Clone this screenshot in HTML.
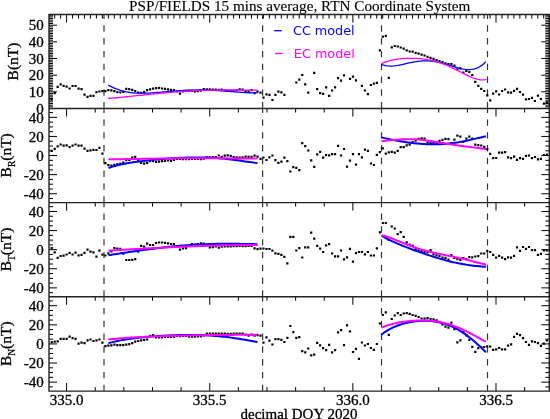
<!DOCTYPE html><html><head><meta charset="utf-8"><style>html,body{margin:0;padding:0;background:#fff;}svg{display:block;}</style></head><body>
<svg width="550" height="419" viewBox="0 0 550 419">
<rect width="550" height="419" fill="#fff"/>
<path d="M49.00 108.50L57.00 108.50M549.30 108.50L541.30 108.50M49.00 106.83L53.00 106.83M549.30 106.83L545.30 106.83M49.00 105.17L53.00 105.17M549.30 105.17L545.30 105.17M49.00 103.50L53.00 103.50M549.30 103.50L545.30 103.50M49.00 101.84L53.00 101.84M549.30 101.84L545.30 101.84M49.00 100.17L53.00 100.17M549.30 100.17L545.30 100.17M49.00 98.50L53.00 98.50M549.30 98.50L545.30 98.50M49.00 96.84L53.00 96.84M549.30 96.84L545.30 96.84M49.00 95.17L53.00 95.17M549.30 95.17L545.30 95.17M49.00 93.51L53.00 93.51M549.30 93.51L545.30 93.51M49.00 91.84L57.00 91.84M549.30 91.84L541.30 91.84M49.00 90.17L53.00 90.17M549.30 90.17L545.30 90.17M49.00 88.51L53.00 88.51M549.30 88.51L545.30 88.51M49.00 86.84L53.00 86.84M549.30 86.84L545.30 86.84M49.00 85.18L53.00 85.18M549.30 85.18L545.30 85.18M49.00 83.51L53.00 83.51M549.30 83.51L545.30 83.51M49.00 81.84L53.00 81.84M549.30 81.84L545.30 81.84M49.00 80.18L53.00 80.18M549.30 80.18L545.30 80.18M49.00 78.51L53.00 78.51M549.30 78.51L545.30 78.51M49.00 76.85L53.00 76.85M549.30 76.85L545.30 76.85M49.00 75.18L57.00 75.18M549.30 75.18L541.30 75.18M49.00 73.51L53.00 73.51M549.30 73.51L545.30 73.51M49.00 71.85L53.00 71.85M549.30 71.85L545.30 71.85M49.00 70.18L53.00 70.18M549.30 70.18L545.30 70.18M49.00 68.52L53.00 68.52M549.30 68.52L545.30 68.52M49.00 66.85L53.00 66.85M549.30 66.85L545.30 66.85M49.00 65.18L53.00 65.18M549.30 65.18L545.30 65.18M49.00 63.52L53.00 63.52M549.30 63.52L545.30 63.52M49.00 61.85L53.00 61.85M549.30 61.85L545.30 61.85M49.00 60.19L53.00 60.19M549.30 60.19L545.30 60.19M49.00 58.52L57.00 58.52M549.30 58.52L541.30 58.52M49.00 56.85L53.00 56.85M549.30 56.85L545.30 56.85M49.00 55.19L53.00 55.19M549.30 55.19L545.30 55.19M49.00 53.52L53.00 53.52M549.30 53.52L545.30 53.52M49.00 51.86L53.00 51.86M549.30 51.86L545.30 51.86M49.00 50.19L53.00 50.19M549.30 50.19L545.30 50.19M49.00 48.52L53.00 48.52M549.30 48.52L545.30 48.52M49.00 46.86L53.00 46.86M549.30 46.86L545.30 46.86M49.00 45.19L53.00 45.19M549.30 45.19L545.30 45.19M49.00 43.53L53.00 43.53M549.30 43.53L545.30 43.53M49.00 41.86L57.00 41.86M549.30 41.86L541.30 41.86M49.00 40.19L53.00 40.19M549.30 40.19L545.30 40.19M49.00 38.53L53.00 38.53M549.30 38.53L545.30 38.53M49.00 36.86L53.00 36.86M549.30 36.86L545.30 36.86M49.00 35.20L53.00 35.20M549.30 35.20L545.30 35.20M49.00 33.53L53.00 33.53M549.30 33.53L545.30 33.53M49.00 31.86L53.00 31.86M549.30 31.86L545.30 31.86M49.00 30.20L53.00 30.20M549.30 30.20L545.30 30.20M49.00 28.53L53.00 28.53M549.30 28.53L545.30 28.53M49.00 26.87L53.00 26.87M549.30 26.87L545.30 26.87M49.00 25.20L57.00 25.20M549.30 25.20L541.30 25.20M49.00 23.53L53.00 23.53M549.30 23.53L545.30 23.53M49.00 21.87L53.00 21.87M549.30 21.87L545.30 21.87M49.00 20.20L53.00 20.20M549.30 20.20L545.30 20.20M49.00 18.54L53.00 18.54M549.30 18.54L545.30 18.54M49.00 16.87L53.00 16.87M549.30 16.87L545.30 16.87M49.00 15.20L53.00 15.20M549.30 15.20L545.30 15.20M54.67 14.55L54.67 18.55M60.64 14.55L60.64 18.55M66.60 14.55L66.60 22.55M72.56 14.55L72.56 18.55M78.53 14.55L78.53 18.55M84.49 14.55L84.49 18.55M90.46 14.55L90.46 18.55M96.42 14.55L96.42 18.55M102.38 14.55L102.38 18.55M108.35 14.55L108.35 18.55M114.31 14.55L114.31 18.55M120.28 14.55L120.28 18.55M126.24 14.55L126.24 18.55M132.20 14.55L132.20 18.55M138.17 14.55L138.17 18.55M144.13 14.55L144.13 18.55M150.10 14.55L150.10 18.55M156.06 14.55L156.06 18.55M162.02 14.55L162.02 18.55M167.99 14.55L167.99 18.55M173.95 14.55L173.95 18.55M179.92 14.55L179.92 18.55M185.88 14.55L185.88 18.55M191.84 14.55L191.84 18.55M197.81 14.55L197.81 18.55M203.77 14.55L203.77 18.55M209.73 14.55L209.73 22.55M215.70 14.55L215.70 18.55M221.66 14.55L221.66 18.55M227.63 14.55L227.63 18.55M233.59 14.55L233.59 18.55M239.55 14.55L239.55 18.55M245.52 14.55L245.52 18.55M251.48 14.55L251.48 18.55M257.45 14.55L257.45 18.55M263.41 14.55L263.41 18.55M269.37 14.55L269.37 18.55M275.34 14.55L275.34 18.55M281.30 14.55L281.30 18.55M287.27 14.55L287.27 18.55M293.23 14.55L293.23 18.55M299.19 14.55L299.19 18.55M305.16 14.55L305.16 18.55M311.12 14.55L311.12 18.55M317.09 14.55L317.09 18.55M323.05 14.55L323.05 18.55M329.01 14.55L329.01 18.55M334.98 14.55L334.98 18.55M340.94 14.55L340.94 18.55M346.91 14.55L346.91 18.55M352.87 14.55L352.87 22.55M358.83 14.55L358.83 18.55M364.80 14.55L364.80 18.55M370.76 14.55L370.76 18.55M376.73 14.55L376.73 18.55M382.69 14.55L382.69 18.55M388.65 14.55L388.65 18.55M394.62 14.55L394.62 18.55M400.58 14.55L400.58 18.55M406.55 14.55L406.55 18.55M412.51 14.55L412.51 18.55M418.47 14.55L418.47 18.55M424.44 14.55L424.44 18.55M430.40 14.55L430.40 18.55M436.37 14.55L436.37 18.55M442.33 14.55L442.33 18.55M448.29 14.55L448.29 18.55M454.26 14.55L454.26 18.55M460.22 14.55L460.22 18.55M466.19 14.55L466.19 18.55M472.15 14.55L472.15 18.55M478.11 14.55L478.11 18.55M484.08 14.55L484.08 18.55M490.04 14.55L490.04 18.55M496.00 14.55L496.00 22.55M501.97 14.55L501.97 18.55M507.93 14.55L507.93 18.55M513.90 14.55L513.90 18.55M519.86 14.55L519.86 18.55M525.82 14.55L525.82 18.55M531.79 14.55L531.79 18.55M537.75 14.55L537.75 18.55M543.72 14.55L543.72 18.55M49.00 198.53L53.00 198.53M549.30 198.53L545.30 198.53M49.00 193.75L57.00 193.75M549.30 193.75L541.30 193.75M49.00 188.98L53.00 188.98M549.30 188.98L545.30 188.98M49.00 184.20L53.00 184.20M549.30 184.20L545.30 184.20M49.00 179.43L53.00 179.43M549.30 179.43L545.30 179.43M49.00 174.65L57.00 174.65M549.30 174.65L541.30 174.65M49.00 169.88L53.00 169.88M549.30 169.88L545.30 169.88M49.00 165.10L53.00 165.10M549.30 165.10L545.30 165.10M49.00 160.33L53.00 160.33M549.30 160.33L545.30 160.33M49.00 155.55L57.00 155.55M549.30 155.55L541.30 155.55M49.00 150.78L53.00 150.78M549.30 150.78L545.30 150.78M49.00 146.00L53.00 146.00M549.30 146.00L545.30 146.00M49.00 141.23L53.00 141.23M549.30 141.23L545.30 141.23M49.00 136.45L57.00 136.45M549.30 136.45L541.30 136.45M49.00 131.68L53.00 131.68M549.30 131.68L545.30 131.68M49.00 126.90L53.00 126.90M549.30 126.90L545.30 126.90M49.00 122.13L53.00 122.13M549.30 122.13L545.30 122.13M49.00 117.35L57.00 117.35M549.30 117.35L541.30 117.35M49.00 112.58L53.00 112.58M549.30 112.58L545.30 112.58M66.60 108.50L66.60 116.50M95.23 108.50L95.23 112.50M123.85 108.50L123.85 112.50M152.48 108.50L152.48 112.50M181.11 108.50L181.11 112.50M209.73 108.50L209.73 116.50M238.36 108.50L238.36 112.50M266.99 108.50L266.99 112.50M295.62 108.50L295.62 112.50M324.24 108.50L324.24 112.50M352.87 108.50L352.87 116.50M381.50 108.50L381.50 112.50M410.12 108.50L410.12 112.50M438.75 108.50L438.75 112.50M467.38 108.50L467.38 112.50M496.00 108.50L496.00 116.50M524.63 108.50L524.63 112.50M49.00 292.65L53.00 292.65M549.30 292.65L545.30 292.65M49.00 287.88L57.00 287.88M549.30 287.88L541.30 287.88M49.00 283.10L53.00 283.10M549.30 283.10L545.30 283.10M49.00 278.32L53.00 278.32M549.30 278.32L545.30 278.32M49.00 273.55L53.00 273.55M549.30 273.55L545.30 273.55M49.00 268.78L57.00 268.78M549.30 268.78L541.30 268.78M49.00 264.00L53.00 264.00M549.30 264.00L545.30 264.00M49.00 259.23L53.00 259.23M549.30 259.23L545.30 259.23M49.00 254.45L53.00 254.45M549.30 254.45L545.30 254.45M49.00 249.68L57.00 249.68M549.30 249.68L541.30 249.68M49.00 244.90L53.00 244.90M549.30 244.90L545.30 244.90M49.00 240.12L53.00 240.12M549.30 240.12L545.30 240.12M49.00 235.35L53.00 235.35M549.30 235.35L545.30 235.35M49.00 230.58L57.00 230.58M549.30 230.58L541.30 230.58M49.00 225.80L53.00 225.80M549.30 225.80L545.30 225.80M49.00 221.03L53.00 221.03M549.30 221.03L545.30 221.03M49.00 216.25L53.00 216.25M549.30 216.25L545.30 216.25M49.00 211.48L57.00 211.48M549.30 211.48L541.30 211.48M49.00 206.70L53.00 206.70M549.30 206.70L545.30 206.70M66.60 202.60L66.60 210.60M95.23 202.60L95.23 206.60M123.85 202.60L123.85 206.60M152.48 202.60L152.48 206.60M181.11 202.60L181.11 206.60M209.73 202.60L209.73 210.60M238.36 202.60L238.36 206.60M266.99 202.60L266.99 206.60M295.62 202.60L295.62 206.60M324.24 202.60L324.24 206.60M352.87 202.60L352.87 210.60M381.50 202.60L381.50 206.60M410.12 202.60L410.12 206.60M438.75 202.60L438.75 206.60M467.38 202.60L467.38 206.60M496.00 202.60L496.00 210.60M524.63 202.60L524.63 206.60M49.00 386.90L53.00 386.90M549.30 386.90L545.30 386.90M49.00 382.12L57.00 382.12M549.30 382.12L541.30 382.12M49.00 377.35L53.00 377.35M549.30 377.35L545.30 377.35M49.00 372.57L53.00 372.57M549.30 372.57L545.30 372.57M49.00 367.80L53.00 367.80M549.30 367.80L545.30 367.80M49.00 363.03L57.00 363.03M549.30 363.03L541.30 363.03M49.00 358.25L53.00 358.25M549.30 358.25L545.30 358.25M49.00 353.48L53.00 353.48M549.30 353.48L545.30 353.48M49.00 348.70L53.00 348.70M549.30 348.70L545.30 348.70M49.00 343.93L57.00 343.93M549.30 343.93L541.30 343.93M49.00 339.15L53.00 339.15M549.30 339.15L545.30 339.15M49.00 334.38L53.00 334.38M549.30 334.38L545.30 334.38M49.00 329.60L53.00 329.60M549.30 329.60L545.30 329.60M49.00 324.82L57.00 324.82M549.30 324.82L541.30 324.82M49.00 320.05L53.00 320.05M549.30 320.05L545.30 320.05M49.00 315.28L53.00 315.28M549.30 315.28L545.30 315.28M49.00 310.50L53.00 310.50M549.30 310.50L545.30 310.50M49.00 305.73L57.00 305.73M549.30 305.73L541.30 305.73M49.00 300.95L53.00 300.95M549.30 300.95L545.30 300.95M66.60 296.75L66.60 304.75M95.23 296.75L95.23 300.75M123.85 296.75L123.85 300.75M152.48 296.75L152.48 300.75M181.11 296.75L181.11 300.75M209.73 296.75L209.73 304.75M238.36 296.75L238.36 300.75M266.99 296.75L266.99 300.75M295.62 296.75L295.62 300.75M324.24 296.75L324.24 300.75M352.87 296.75L352.87 304.75M381.50 296.75L381.50 300.75M410.12 296.75L410.12 300.75M438.75 296.75L438.75 300.75M467.38 296.75L467.38 300.75M496.00 296.75L496.00 304.75M524.63 296.75L524.63 300.75M66.60 391.10L66.60 383.10M95.23 391.10L95.23 387.10M123.85 391.10L123.85 387.10M152.48 391.10L152.48 387.10M181.11 391.10L181.11 387.10M209.73 391.10L209.73 383.10M238.36 391.10L238.36 387.10M266.99 391.10L266.99 387.10M295.62 391.10L295.62 387.10M324.24 391.10L324.24 387.10M352.87 391.10L352.87 383.10M381.50 391.10L381.50 387.10M410.12 391.10L410.12 387.10M438.75 391.10L438.75 387.10M467.38 391.10L467.38 387.10M496.00 391.10L496.00 383.10M524.63 391.10L524.63 387.10" stroke="#000" stroke-width="1.0" fill="none"/>
<path d="M49.0 14.55H549.3M49.0 108.50H549.3M49.0 202.60H549.3M49.0 296.75H549.3M49.0 391.10H549.3M49.0 13.85V391.80M549.3 13.85V391.80" stroke="#222" stroke-width="1.4" fill="none"/>
<path d="M104.0 108.50V14.55M104.0 202.60V108.50M104.0 296.75V202.60M104.0 391.10V296.75M262.6 108.50V14.55M262.6 202.60V108.50M262.6 296.75V202.60M262.6 391.10V296.75M381.5 108.50V14.55M381.5 202.60V108.50M381.5 296.75V202.60M381.5 391.10V296.75M487.5 108.50V14.55M487.5 202.60V108.50M487.5 296.75V202.60M487.5 391.10V296.75" stroke="#333" stroke-width="1.2" stroke-dasharray="6.4 6.4" fill="none"/>
<text x="43.80" y="113.70" font-family="Liberation Serif, serif" stroke="#000" stroke-width="0.3" font-size="15" text-anchor="end">0</text>
<text x="43.80" y="97.04" font-family="Liberation Serif, serif" stroke="#000" stroke-width="0.3" font-size="15" text-anchor="end">10</text>
<text x="43.80" y="80.38" font-family="Liberation Serif, serif" stroke="#000" stroke-width="0.3" font-size="15" text-anchor="end">20</text>
<text x="43.80" y="63.72" font-family="Liberation Serif, serif" stroke="#000" stroke-width="0.3" font-size="15" text-anchor="end">30</text>
<text x="43.80" y="47.06" font-family="Liberation Serif, serif" stroke="#000" stroke-width="0.3" font-size="15" text-anchor="end">40</text>
<text x="43.80" y="30.40" font-family="Liberation Serif, serif" stroke="#000" stroke-width="0.3" font-size="15" text-anchor="end">50</text>
<text x="43.80" y="198.95" font-family="Liberation Serif, serif" stroke="#000" stroke-width="0.3" font-size="15" text-anchor="end">-40</text>
<text x="43.80" y="179.85" font-family="Liberation Serif, serif" stroke="#000" stroke-width="0.3" font-size="15" text-anchor="end">-20</text>
<text x="43.80" y="160.75" font-family="Liberation Serif, serif" stroke="#000" stroke-width="0.3" font-size="15" text-anchor="end">0</text>
<text x="43.80" y="141.65" font-family="Liberation Serif, serif" stroke="#000" stroke-width="0.3" font-size="15" text-anchor="end">20</text>
<text x="43.80" y="122.55" font-family="Liberation Serif, serif" stroke="#000" stroke-width="0.3" font-size="15" text-anchor="end">40</text>
<text x="43.80" y="293.07" font-family="Liberation Serif, serif" stroke="#000" stroke-width="0.3" font-size="15" text-anchor="end">-40</text>
<text x="43.80" y="273.98" font-family="Liberation Serif, serif" stroke="#000" stroke-width="0.3" font-size="15" text-anchor="end">-20</text>
<text x="43.80" y="254.88" font-family="Liberation Serif, serif" stroke="#000" stroke-width="0.3" font-size="15" text-anchor="end">0</text>
<text x="43.80" y="235.78" font-family="Liberation Serif, serif" stroke="#000" stroke-width="0.3" font-size="15" text-anchor="end">20</text>
<text x="43.80" y="216.68" font-family="Liberation Serif, serif" stroke="#000" stroke-width="0.3" font-size="15" text-anchor="end">40</text>
<text x="43.80" y="387.32" font-family="Liberation Serif, serif" stroke="#000" stroke-width="0.3" font-size="15" text-anchor="end">-40</text>
<text x="43.80" y="368.23" font-family="Liberation Serif, serif" stroke="#000" stroke-width="0.3" font-size="15" text-anchor="end">-20</text>
<text x="43.80" y="349.12" font-family="Liberation Serif, serif" stroke="#000" stroke-width="0.3" font-size="15" text-anchor="end">0</text>
<text x="43.80" y="330.02" font-family="Liberation Serif, serif" stroke="#000" stroke-width="0.3" font-size="15" text-anchor="end">20</text>
<text x="43.80" y="310.93" font-family="Liberation Serif, serif" stroke="#000" stroke-width="0.3" font-size="15" text-anchor="end">40</text>
<text x="66.60" y="404.5" font-family="Liberation Serif, serif" stroke="#000" stroke-width="0.3" font-size="15" text-anchor="middle">335.0</text>
<text x="209.73" y="404.5" font-family="Liberation Serif, serif" stroke="#000" stroke-width="0.3" font-size="15" text-anchor="middle">335.5</text>
<text x="352.87" y="404.5" font-family="Liberation Serif, serif" stroke="#000" stroke-width="0.3" font-size="15" text-anchor="middle">336.0</text>
<text x="496.00" y="404.5" font-family="Liberation Serif, serif" stroke="#000" stroke-width="0.3" font-size="15" text-anchor="middle">336.5</text>
<text x="299" y="418.6" font-family="Liberation Serif, serif" stroke="#000" stroke-width="0.3" font-size="15" text-anchor="middle">decimal DOY 2020</text>
<text x="299.7" y="10.8" font-family="Liberation Serif, serif" stroke="#000" stroke-width="0.12" font-size="15.2" text-anchor="middle">PSP/FIELDS 15 mins average, RTN Coordinate System</text>
<text transform="translate(18.4 61.52) rotate(-90)" font-family="Liberation Serif, serif" stroke="#000" stroke-width="0.3" font-size="15.5" text-anchor="middle">B(nT)</text>
<text transform="translate(10.9 155.35) rotate(-90)" font-family="Liberation Serif, serif" stroke="#000" stroke-width="0.3" font-size="15.5" text-anchor="middle">B<tspan font-size="9.5" dy="4.3">R</tspan><tspan dy="-4.3">(nT)</tspan></text>
<text transform="translate(10.9 249.48) rotate(-90)" font-family="Liberation Serif, serif" stroke="#000" stroke-width="0.3" font-size="15.5" text-anchor="middle">B<tspan font-size="9.5" dy="4.3">T</tspan><tspan dy="-4.3">(nT)</tspan></text>
<text transform="translate(10.9 343.73) rotate(-90)" font-family="Liberation Serif, serif" stroke="#000" stroke-width="0.3" font-size="15.5" text-anchor="middle">B<tspan font-size="9.5" dy="4.3">N</tspan><tspan dy="-4.3">(nT)</tspan></text>
<path d="M274.2 30.7H281.8" stroke="#00f" stroke-width="1.3"/>
<path d="M275 53.5H282.4" stroke="#f0f" stroke-width="1.3"/>
<text x="293.0" y="35.3" font-family="DejaVu Sans, sans-serif" font-size="12.75" fill="#00f">CC model</text>
<text x="293.8" y="58.2" font-family="DejaVu Sans, sans-serif" font-size="12.8" fill="#f0f">EC model</text>
<path d="M51.70 98.90h0M54.68 93.20h0M57.67 86.80h0M60.65 84.40h0M63.63 85.80h0M66.62 86.60h0M69.60 88.50h0M72.58 86.00h0M75.56 86.00h0M78.55 88.60h0M81.53 89.20h0M84.51 94.70h0M87.50 96.90h0M90.48 95.90h0M93.46 95.90h0M96.45 92.10h0M99.43 91.50h0M102.41 91.10h0M105.39 91.10h0M108.38 90.10h0M111.36 90.40h0M114.34 91.10h0M117.33 92.10h0M120.31 92.50h0M123.29 91.80h0M126.28 88.90h0M129.26 89.20h0M132.24 89.90h0M135.22 91.10h0M138.21 92.50h0M141.19 92.80h0M144.17 92.10h0M147.16 90.10h0M150.14 89.30h0M153.12 88.60h0M156.11 88.20h0M159.09 87.90h0M162.07 88.50h0M165.05 88.90h0M168.04 89.30h0M171.02 89.80h0M174.00 90.10h0M176.99 91.50h0M179.97 93.70h0M182.95 91.40h0M185.94 90.80h0M188.92 90.80h0M191.90 90.80h0M194.88 91.50h0M197.87 91.10h0M200.85 90.70h0M203.83 89.20h0M206.82 89.30h0M209.80 89.30h0M212.78 89.50h0M215.76 89.60h0M218.75 89.80h0M221.73 89.70h0M224.71 90.10h0M227.70 90.50h0M230.68 90.80h0M233.66 90.80h0M236.65 90.20h0M239.63 89.30h0M242.61 89.50h0M245.60 91.10h0M248.58 91.10h0M251.56 90.20h0M254.54 93.20h0M257.53 91.60h0M260.51 92.70h0M263.49 97.70h0M266.48 94.40h0M269.46 94.90h0M272.44 100.00h0M275.43 94.80h0M278.41 91.70h0M281.39 92.30h0M284.37 94.90h0M296.31 82.50h0M299.29 79.60h0M302.27 75.00h0M305.25 84.40h0M308.24 92.70h0M314.20 72.80h0M317.19 89.10h0M320.17 93.20h0M323.15 93.90h0M326.14 87.30h0M329.12 95.80h0M332.10 90.50h0M335.08 87.30h0M338.07 78.20h0M341.05 80.70h0M344.03 75.30h0M350.00 78.90h0M352.98 76.70h0M355.97 80.40h0M361.93 85.90h0M364.92 90.50h0M367.90 94.20h0M370.88 85.00h0M373.86 83.70h0M376.85 82.80h0M379.83 50.30h0M382.81 36.60h0M385.80 35.90h0M388.78 77.90h0M391.76 47.40h0M394.75 46.00h0M397.73 46.50h0M400.71 47.50h0M403.69 48.60h0M406.68 50.30h0M409.66 51.50h0M412.64 51.60h0M415.63 52.80h0M418.61 53.60h0M421.59 54.70h0M424.57 55.50h0M427.56 56.90h0M430.54 57.80h0M433.52 58.90h0M436.51 60.10h0M439.49 61.10h0M442.47 62.10h0M445.46 63.30h0M448.44 64.20h0M451.42 64.20h0M454.41 65.70h0M457.39 69.40h0M460.37 68.40h0M463.35 72.50h0M466.34 70.90h0M469.32 72.00h0M472.30 75.00h0M475.29 81.80h0M478.27 85.90h0M481.25 88.80h0M484.24 91.00h0M487.22 95.30h0M490.20 100.40h0M493.18 93.70h0M496.17 91.30h0M499.15 94.50h0M502.13 91.00h0M505.12 89.50h0M508.10 92.30h0M511.08 92.70h0M514.07 90.80h0M517.05 88.80h0M520.03 92.00h0M523.01 94.60h0M526.00 99.30h0M528.98 99.00h0M531.96 97.80h0M534.95 101.00h0M537.93 95.60h0M540.91 99.00h0M543.89 103.60h0M546.88 102.50h0" stroke="#000" stroke-width="2.2" stroke-linecap="square" fill="none"/>
<path d="M51.70 150.80h0M54.68 148.90h0M57.67 146.30h0M60.65 144.50h0M63.63 145.60h0M66.62 145.30h0M69.60 147.20h0M72.58 145.70h0M75.56 144.50h0M78.55 145.60h0M81.53 145.70h0M84.51 148.60h0M87.50 150.80h0M90.48 150.40h0M93.46 149.90h0M96.45 150.00h0M99.43 147.90h0M102.41 153.70h0M105.39 163.20h0M108.38 165.10h0M111.36 165.60h0M114.34 164.90h0M117.33 164.20h0M120.31 163.50h0M123.29 162.70h0M126.28 160.20h0M129.26 159.90h0M132.24 157.50h0M135.22 156.90h0M138.21 160.50h0M141.19 162.90h0M144.17 163.60h0M147.16 162.90h0M150.14 161.10h0M153.12 161.10h0M156.11 161.80h0M159.09 161.70h0M162.07 161.10h0M165.05 160.90h0M168.04 160.50h0M171.02 160.90h0M174.00 159.80h0M176.99 158.90h0M179.97 158.90h0M182.95 159.10h0M185.94 159.10h0M188.92 159.20h0M191.90 158.90h0M194.88 159.00h0M197.87 158.80h0M200.85 159.10h0M203.83 158.70h0M206.82 157.30h0M209.80 157.30h0M212.78 157.10h0M215.76 157.10h0M218.75 155.50h0M221.73 156.90h0M224.71 155.60h0M227.70 155.30h0M230.68 155.80h0M233.66 157.00h0M236.65 157.30h0M239.63 157.50h0M242.61 157.30h0M245.60 156.70h0M248.58 156.90h0M251.56 156.90h0M254.54 155.60h0M257.53 156.70h0M260.51 158.80h0M263.49 157.50h0M266.48 160.00h0M269.46 157.40h0M272.44 155.50h0M275.43 160.20h0M278.41 162.80h0M281.39 161.70h0M284.37 157.70h0M287.36 161.10h0M290.34 171.50h0M293.32 167.20h0M296.31 167.90h0M299.29 170.10h0M302.27 143.20h0M305.25 146.10h0M308.24 150.50h0M311.22 160.30h0M314.20 166.90h0M317.19 154.40h0M320.17 151.90h0M323.15 157.70h0M326.14 155.10h0M329.12 155.30h0M332.10 154.10h0M335.08 154.10h0M338.07 145.80h0M341.05 155.50h0M344.03 149.00h0M347.02 166.60h0M350.00 160.60h0M352.98 154.10h0M355.97 164.60h0M358.95 154.10h0M361.93 157.30h0M364.92 149.70h0M367.90 150.90h0M370.88 163.50h0M373.86 165.00h0M376.85 154.80h0M379.83 152.20h0M382.81 148.30h0M385.80 153.70h0M388.78 152.30h0M391.76 151.90h0M394.75 152.60h0M397.73 150.90h0M400.71 147.10h0M403.69 147.10h0M406.68 145.40h0M409.66 144.60h0M412.64 142.20h0M415.63 140.70h0M418.61 138.80h0M421.59 138.30h0M424.57 138.70h0M427.56 142.50h0M430.54 143.00h0M433.52 143.00h0M436.51 143.30h0M439.49 140.80h0M442.47 139.90h0M445.46 138.90h0M448.44 139.20h0M451.42 143.00h0M454.41 139.60h0M457.39 135.70h0M460.37 136.70h0M463.35 141.80h0M466.34 138.60h0M469.32 136.70h0M472.30 138.60h0M475.29 144.70h0M478.27 145.20h0M481.25 145.50h0M484.24 146.90h0M487.22 149.10h0M490.20 153.80h0M493.18 158.20h0M496.17 158.00h0M499.15 152.70h0M502.13 152.70h0M505.12 152.20h0M508.10 157.40h0M511.08 158.10h0M514.07 156.60h0M517.05 159.90h0M520.03 158.10h0M523.01 158.80h0M526.00 155.90h0M528.98 155.50h0M531.96 158.10h0M534.95 157.00h0M537.93 159.30h0M540.91 158.80h0M543.89 155.00h0M546.88 154.60h0" stroke="#000" stroke-width="2.2" stroke-linecap="square" fill="none"/>
<path d="M51.70 248.00h0M54.68 252.40h0M57.67 257.90h0M60.65 256.00h0M63.63 255.70h0M66.62 254.50h0M69.60 252.80h0M72.58 254.50h0M75.56 252.70h0M78.55 255.30h0M81.53 254.80h0M84.51 252.80h0M87.50 249.70h0M90.48 251.60h0M93.46 252.40h0M96.45 256.60h0M99.43 250.70h0M102.41 254.70h0M105.39 255.50h0M108.38 253.40h0M111.36 251.50h0M114.34 248.00h0M117.33 248.60h0M120.31 248.90h0M123.29 253.60h0M126.28 260.00h0M129.26 260.00h0M132.24 259.80h0M135.22 259.20h0M138.21 251.60h0M141.19 245.90h0M144.17 246.60h0M147.16 243.70h0M150.14 245.00h0M153.12 245.00h0M156.11 243.00h0M159.09 242.50h0M162.07 242.50h0M165.05 242.80h0M168.04 243.30h0M171.02 244.00h0M174.00 244.00h0M176.99 246.90h0M179.97 249.70h0M182.95 248.40h0M185.94 248.20h0M188.92 246.00h0M191.90 244.20h0M194.88 244.50h0M197.87 244.00h0M200.85 243.40h0M203.83 243.50h0M206.82 245.00h0M209.80 247.30h0M212.78 247.20h0M215.76 246.50h0M218.75 247.60h0M221.73 246.70h0M224.71 246.40h0M227.70 246.40h0M230.68 246.40h0M233.66 246.20h0M236.65 246.10h0M239.63 245.90h0M242.61 246.20h0M245.60 246.10h0M248.58 245.90h0M251.56 245.90h0M254.54 248.30h0M257.53 249.10h0M260.51 248.70h0M263.49 248.50h0M266.48 249.00h0M269.46 249.00h0M272.44 250.70h0M275.43 253.30h0M278.41 253.90h0M281.39 254.80h0M284.37 256.90h0M287.36 263.30h0M290.34 236.90h0M293.32 236.90h0M296.31 250.50h0M299.29 248.20h0M302.27 257.50h0M305.25 247.40h0M308.24 247.40h0M311.22 232.60h0M314.20 238.70h0M317.19 245.90h0M320.17 248.60h0M323.15 252.00h0M326.14 245.30h0M329.12 244.10h0M332.10 253.50h0M335.08 256.30h0M338.07 256.30h0M341.05 250.50h0M344.03 259.30h0M347.02 257.30h0M350.00 248.90h0M352.98 261.60h0M355.97 253.20h0M358.95 252.00h0M361.93 252.00h0M364.92 254.40h0M367.90 252.00h0M370.88 255.50h0M373.86 255.50h0M376.85 248.30h0M379.83 232.30h0M382.81 223.00h0M385.80 223.00h0M388.78 239.90h0M391.76 226.50h0M394.75 228.50h0M397.73 234.10h0M400.71 232.20h0M403.69 236.90h0M406.68 242.30h0M409.66 244.50h0M412.64 245.60h0M415.63 249.10h0M418.61 250.20h0M421.59 251.00h0M424.57 252.10h0M427.56 252.20h0M430.54 250.10h0M433.52 254.30h0M436.51 255.30h0M439.49 256.00h0M442.47 257.60h0M445.46 257.80h0M448.44 259.70h0M451.42 255.00h0M454.41 258.00h0M457.39 259.20h0M460.37 259.80h0M463.35 258.20h0M466.34 259.10h0M469.32 257.10h0M472.30 257.30h0M475.29 256.50h0M478.27 256.20h0M481.25 253.50h0M484.24 253.50h0M487.22 250.80h0M490.20 252.00h0M493.18 254.90h0M496.17 257.70h0M499.15 255.90h0M502.13 257.70h0M505.12 259.10h0M508.10 257.30h0M511.08 257.70h0M514.07 255.90h0M517.05 247.40h0M520.03 250.80h0M523.01 247.00h0M526.00 248.80h0M528.98 247.00h0M531.96 250.20h0M534.95 250.20h0M537.93 254.90h0M540.91 253.80h0M543.89 250.50h0M546.88 250.50h0" stroke="#000" stroke-width="2.2" stroke-linecap="square" fill="none"/>
<path d="M51.70 342.20h0M54.68 341.70h0M57.67 341.30h0M60.65 338.80h0M63.63 338.80h0M66.62 338.80h0M69.60 336.60h0M72.58 338.10h0M75.56 338.80h0M78.55 343.60h0M81.53 342.70h0M84.51 343.20h0M87.50 340.30h0M90.48 339.50h0M93.46 341.00h0M96.45 340.30h0M99.43 339.50h0M102.41 342.70h0M105.39 346.10h0M108.38 345.70h0M111.36 345.40h0M114.34 344.60h0M117.33 345.10h0M120.31 345.10h0M123.29 345.10h0M126.28 344.60h0M129.26 344.20h0M132.24 343.20h0M135.22 341.70h0M138.21 341.00h0M141.19 340.30h0M144.17 339.80h0M147.16 339.50h0M150.14 335.90h0M153.12 335.20h0M156.11 337.40h0M159.09 337.40h0M162.07 337.40h0M165.05 336.90h0M168.04 336.90h0M171.02 336.90h0M174.00 336.90h0M176.99 336.00h0M179.97 336.20h0M182.95 336.00h0M185.94 336.00h0M188.92 336.60h0M191.90 336.60h0M194.88 336.60h0M197.87 336.30h0M200.85 336.40h0M203.83 335.50h0M206.82 333.50h0M209.80 333.50h0M212.78 333.60h0M215.76 333.60h0M218.75 333.60h0M221.73 333.60h0M224.71 333.60h0M227.70 333.80h0M230.68 333.80h0M233.66 333.60h0M236.65 333.60h0M239.63 333.60h0M242.61 333.60h0M245.60 334.50h0M248.58 335.70h0M251.56 334.70h0M254.54 335.70h0M257.53 335.20h0M260.51 335.60h0M263.49 342.70h0M266.48 337.30h0M269.46 340.60h0M272.44 344.50h0M275.43 339.20h0M278.41 339.20h0M281.39 339.80h0M284.37 342.00h0M287.36 337.80h0M290.34 326.00h0M293.32 332.10h0M296.31 337.90h0M299.29 337.20h0M302.27 351.20h0M305.25 352.30h0M308.24 348.50h0M311.22 355.30h0M314.20 354.70h0M317.19 342.80h0M320.17 345.40h0M323.15 348.20h0M326.14 350.20h0M329.12 344.80h0M332.10 352.30h0M335.08 350.20h0M338.07 332.40h0M341.05 330.20h0M344.03 345.10h0M347.02 325.30h0M350.00 331.40h0M352.98 352.00h0M355.97 348.80h0M358.95 358.80h0M361.93 342.50h0M364.92 345.50h0M367.90 344.00h0M370.88 348.00h0M373.86 349.80h0M376.85 344.00h0M379.83 323.50h0M382.81 315.00h0M385.80 312.40h0M388.78 334.80h0M391.76 319.00h0M394.75 315.50h0M397.73 313.20h0M400.71 315.00h0M403.69 313.50h0M406.68 313.20h0M409.66 313.90h0M412.64 315.00h0M415.63 315.90h0M418.61 317.00h0M421.59 318.50h0M424.57 318.50h0M427.56 318.20h0M430.54 319.00h0M433.52 319.40h0M436.51 320.40h0M439.49 321.80h0M442.47 324.30h0M445.46 326.60h0M448.44 327.60h0M451.42 322.60h0M454.41 329.10h0M457.39 342.40h0M460.37 340.40h0M463.35 332.40h0M466.34 335.30h0M469.32 339.80h0M472.30 346.90h0M475.29 351.90h0M478.27 348.20h0M481.25 347.00h0M484.24 347.00h0M487.22 346.30h0M490.20 346.50h0M493.18 349.80h0M496.17 349.30h0M499.15 348.00h0M502.13 349.40h0M505.12 349.40h0M508.10 345.60h0M511.08 344.40h0M514.07 336.90h0M517.05 333.90h0M520.03 335.10h0M523.01 338.10h0M526.00 342.00h0M528.98 344.90h0M531.96 341.30h0M534.95 342.00h0M537.93 343.20h0M540.91 345.90h0M543.89 343.70h0M546.88 340.50h0" stroke="#000" stroke-width="2.2" stroke-linecap="square" fill="none"/>
<path d="M108.20 84.95L110.25 86.12L112.29 87.18L114.34 88.13L116.38 88.97L118.43 89.73L120.47 90.39L122.52 90.96L124.56 91.46L126.61 91.88L128.65 92.24L130.70 92.53L132.74 92.76L134.79 92.94L136.83 93.07L138.88 93.15L140.92 93.20L142.97 93.20L145.01 93.18L147.06 93.12L149.10 93.04L151.15 92.93L153.19 92.81L155.24 92.67L157.28 92.52L159.33 92.36L161.38 92.19L163.42 92.01L165.47 91.84L167.51 91.66L169.56 91.48L171.60 91.31L173.65 91.14L175.69 90.98L177.74 90.83L179.78 90.69L181.83 90.55L183.87 90.43L185.92 90.33L187.96 90.24L190.01 90.16L192.05 90.09L194.10 90.05L196.14 90.02L198.19 90.00L200.23 90.00L202.28 90.02L204.32 90.05L206.37 90.09L208.42 90.16L210.46 90.23L212.51 90.32L214.55 90.42L216.60 90.54L218.64 90.66L220.69 90.80L222.73 90.94L224.78 91.09L226.82 91.24L228.87 91.40L230.91 91.56L232.96 91.72L235.00 91.88L237.05 92.04L239.09 92.18L241.14 92.33L243.18 92.45L245.23 92.57L247.27 92.67L249.32 92.75L251.36 92.82L253.41 92.85L255.45 92.86L257.50 92.84" stroke="#00f" stroke-width="1.3" fill="none"/>
<path d="M381.40 64.38L383.45 65.13L385.50 65.65L387.55 65.97L389.60 66.12L391.65 66.11L393.69 65.97L395.74 65.73L397.79 65.41L399.84 65.02L401.89 64.59L403.94 64.13L405.99 63.66L408.04 63.19L410.09 62.74L412.14 62.31L414.18 61.92L416.23 61.58L418.28 61.29L420.33 61.07L422.38 60.91L424.43 60.82L426.48 60.81L428.53 60.87L430.58 61.01L432.63 61.22L434.67 61.51L436.72 61.86L438.77 62.28L440.82 62.76L442.87 63.29L444.92 63.86L446.97 64.47L449.02 65.10L451.07 65.75L453.12 66.39L455.16 67.02L457.21 67.62L459.26 68.17L461.31 68.66L463.36 69.06L465.41 69.36L467.46 69.54L469.51 69.58L471.56 69.44L473.61 69.12L475.65 68.57L477.70 67.79L479.75 66.73L481.80 65.37L483.85 63.69L485.90 61.64" stroke="#00f" stroke-width="1.3" fill="none"/>
<path d="M108.20 98.42L110.25 98.26L112.29 98.09L114.34 97.92L116.38 97.74L118.43 97.55L120.47 97.35L122.52 97.15L124.56 96.95L126.61 96.75L128.65 96.54L130.70 96.33L132.74 96.11L134.79 95.90L136.83 95.68L138.88 95.47L140.92 95.25L142.97 95.03L145.01 94.82L147.06 94.61L149.10 94.40L151.15 94.19L153.19 93.98L155.24 93.78L157.28 93.58L159.33 93.38L161.38 93.19L163.42 93.00L165.47 92.81L167.51 92.63L169.56 92.46L171.60 92.29L173.65 92.13L175.69 91.97L177.74 91.81L179.78 91.67L181.83 91.53L183.87 91.39L185.92 91.26L187.96 91.14L190.01 91.02L192.05 90.91L194.10 90.81L196.14 90.71L198.19 90.62L200.23 90.54L202.28 90.46L204.32 90.39L206.37 90.32L208.42 90.27L210.46 90.21L212.51 90.17L214.55 90.13L216.60 90.09L218.64 90.06L220.69 90.04L222.73 90.02L224.78 90.01L226.82 90.00L228.87 89.99L230.91 89.99L232.96 90.00L235.00 90.01L237.05 90.02L239.09 90.03L241.14 90.05L243.18 90.07L245.23 90.09L247.27 90.11L249.32 90.14L251.36 90.16L253.41 90.19L255.45 90.21L257.50 90.24" stroke="#f0f" stroke-width="1.3" fill="none"/>
<path d="M381.30 63.75L383.36 62.82L385.42 62.01L387.48 61.32L389.54 60.72L391.60 60.22L393.66 59.79L395.73 59.43L397.79 59.13L399.85 58.88L401.91 58.68L403.97 58.53L406.03 58.42L408.09 58.34L410.15 58.31L412.21 58.31L414.27 58.35L416.33 58.43L418.39 58.55L420.45 58.71L422.52 58.91L424.58 59.16L426.64 59.46L428.70 59.81L430.76 60.21L432.82 60.67L434.88 61.18L436.94 61.75L439.00 62.37L441.06 63.06L443.12 63.80L445.18 64.60L447.25 65.45L449.31 66.35L451.37 67.30L453.43 68.29L455.49 69.32L457.55 70.37L459.61 71.44L461.67 72.52L463.73 73.59L465.79 74.64L467.85 75.65L469.91 76.61L471.97 77.50L474.04 78.29L476.10 78.96L478.16 79.48L480.22 79.82L482.28 79.95L484.34 79.85L486.40 79.46" stroke="#f0f" stroke-width="1.3" fill="none"/>
<path d="M108.50 167.99L110.54 167.30L112.58 166.65L114.62 166.06L116.66 165.50L118.71 164.99L120.75 164.52L122.79 164.07L124.83 163.66L126.87 163.27L128.91 162.91L130.95 162.57L132.99 162.25L135.03 161.95L137.08 161.66L139.12 161.39L141.16 161.14L143.20 160.89L145.24 160.65L147.28 160.43L149.32 160.21L151.36 160.01L153.40 159.81L155.45 159.61L157.49 159.43L159.53 159.25L161.57 159.07L163.61 158.91L165.65 158.75L167.69 158.59L169.73 158.45L171.77 158.31L173.82 158.18L175.86 158.06L177.90 157.94L179.94 157.84L181.98 157.74L184.02 157.65L186.06 157.58L188.10 157.51L190.14 157.46L192.18 157.42L194.23 157.39L196.27 157.38L198.31 157.38L200.35 157.39L202.39 157.42L204.43 157.46L206.47 157.52L208.51 157.60L210.55 157.69L212.60 157.80L214.64 157.92L216.68 158.06L218.72 158.22L220.76 158.39L222.80 158.58L224.84 158.78L226.88 159.00L228.92 159.23L230.97 159.47L233.01 159.73L235.05 159.99L237.09 160.27L239.13 160.55L241.17 160.84L243.21 161.14L245.25 161.44L247.29 161.74L249.34 162.03L251.38 162.32L253.42 162.61L255.46 162.88L257.50 163.14" stroke="#00f" stroke-width="2.0" fill="none"/>
<path d="M381.50 137.40L383.55 137.90L385.59 138.38L387.64 138.83L389.69 139.27L391.74 139.69L393.78 140.09L395.83 140.47L397.88 140.84L399.92 141.19L401.97 141.52L404.02 141.84L406.06 142.15L408.11 142.44L410.16 142.71L412.21 142.96L414.25 143.19L416.30 143.41L418.35 143.61L420.39 143.78L422.44 143.94L424.49 144.07L426.54 144.17L428.58 144.26L430.63 144.31L432.68 144.34L434.72 144.35L436.77 144.32L438.82 144.27L440.86 144.19L442.91 144.08L444.96 143.94L447.01 143.77L449.05 143.56L451.10 143.33L453.15 143.07L455.19 142.78L457.24 142.47L459.29 142.12L461.34 141.76L463.38 141.36L465.43 140.95L467.48 140.52L469.52 140.07L471.57 139.60L473.62 139.12L475.66 138.64L477.71 138.15L479.76 137.67L481.81 137.19L483.85 136.72L485.90 136.27" stroke="#00f" stroke-width="2.0" fill="none"/>
<path d="M108.50 159.25L110.54 159.24L112.58 159.23L114.62 159.21L116.66 159.20L118.71 159.18L120.75 159.15L122.79 159.13L124.83 159.10L126.87 159.08L128.91 159.05L130.95 159.02L132.99 158.99L135.03 158.96L137.08 158.93L139.12 158.89L141.16 158.86L143.20 158.83L145.24 158.80L147.28 158.76L149.32 158.73L151.36 158.70L153.40 158.67L155.45 158.64L157.49 158.61L159.53 158.58L161.57 158.55L163.61 158.52L165.65 158.49L167.69 158.47L169.73 158.45L171.77 158.42L173.82 158.40L175.86 158.38L177.90 158.36L179.94 158.35L181.98 158.33L184.02 158.32L186.06 158.30L188.10 158.29L190.14 158.28L192.18 158.27L194.23 158.27L196.27 158.26L198.31 158.26L200.35 158.26L202.39 158.26L204.43 158.26L206.47 158.26L208.51 158.27L210.55 158.27L212.60 158.28L214.64 158.29L216.68 158.30L218.72 158.31L220.76 158.32L222.80 158.34L224.84 158.35L226.88 158.37L228.92 158.38L230.97 158.40L233.01 158.42L235.05 158.43L237.09 158.45L239.13 158.47L241.17 158.49L243.21 158.51L245.25 158.52L247.29 158.54L249.34 158.56L251.38 158.58L253.42 158.59L255.46 158.61L257.50 158.62" stroke="#f0f" stroke-width="2.0" fill="none"/>
<path d="M381.50 141.30L383.56 141.08L385.61 140.84L387.67 140.60L389.73 140.36L391.78 140.13L393.84 139.91L395.90 139.71L397.95 139.54L400.01 139.40L402.07 139.28L404.13 139.20L406.18 139.15L408.24 139.14L410.30 139.16L412.35 139.22L414.41 139.31L416.47 139.44L418.52 139.59L420.58 139.78L422.64 139.99L424.69 140.24L426.75 140.50L428.81 140.78L430.86 141.09L432.92 141.40L434.98 141.73L437.04 142.07L439.09 142.42L441.15 142.76L443.21 143.11L445.26 143.46L447.32 143.80L449.38 144.13L451.43 144.46L453.49 144.78L455.55 145.08L457.60 145.38L459.66 145.66L461.72 145.93L463.77 146.19L465.83 146.44L467.89 146.68L469.95 146.92L472.00 147.16L474.06 147.40L476.12 147.64L478.17 147.90L480.23 148.18L482.29 148.48L484.34 148.82L486.40 149.20" stroke="#f0f" stroke-width="2.0" fill="none"/>
<path d="M108.40 255.22L110.44 254.91L112.48 254.59L114.53 254.28L116.57 253.96L118.61 253.65L120.65 253.34L122.70 253.02L124.74 252.71L126.78 252.41L128.82 252.10L130.87 251.80L132.91 251.49L134.95 251.19L136.99 250.90L139.04 250.61L141.08 250.32L143.12 250.03L145.16 249.75L147.21 249.47L149.25 249.20L151.29 248.93L153.33 248.67L155.38 248.41L157.42 248.15L159.46 247.91L161.50 247.66L163.55 247.43L165.59 247.20L167.63 246.97L169.67 246.76L171.72 246.55L173.76 246.35L175.80 246.15L177.84 245.96L179.89 245.78L181.93 245.61L183.97 245.44L186.01 245.28L188.06 245.13L190.10 244.99L192.14 244.86L194.18 244.73L196.23 244.61L198.27 244.50L200.31 244.40L202.35 244.30L204.40 244.22L206.44 244.14L208.48 244.07L210.52 244.01L212.57 243.95L214.61 243.91L216.65 243.87L218.69 243.84L220.74 243.81L222.78 243.79L224.82 243.78L226.86 243.78L228.91 243.78L230.95 243.78L232.99 243.80L235.03 243.81L237.08 243.83L239.12 243.86L241.16 243.89L243.20 243.92L245.25 243.96L247.29 244.00L249.33 244.04L251.37 244.08L253.42 244.12L255.46 244.16L257.50 244.20" stroke="#00f" stroke-width="2.0" fill="none"/>
<path d="M381.60 235.69L383.65 236.88L385.69 238.00L387.74 239.07L389.78 240.10L391.83 241.08L393.87 242.02L395.92 242.94L397.96 243.82L400.01 244.68L402.05 245.52L404.10 246.34L406.14 247.14L408.19 247.92L410.23 248.70L412.28 249.46L414.32 250.21L416.37 250.94L418.41 251.67L420.46 252.39L422.50 253.10L424.55 253.80L426.59 254.49L428.64 255.17L430.68 255.84L432.73 256.50L434.77 257.14L436.82 257.77L438.86 258.38L440.91 258.98L442.95 259.56L445.00 260.12L447.04 260.67L449.09 261.19L451.13 261.69L453.18 262.17L455.22 262.63L457.27 263.06L459.31 263.47L461.36 263.85L463.40 264.22L465.45 264.55L467.49 264.87L469.54 265.16L471.58 265.42L473.63 265.67L475.67 265.90L477.72 266.11L479.76 266.30L481.81 266.48L483.85 266.65L485.90 266.81" stroke="#00f" stroke-width="2.0" fill="none"/>
<path d="M108.40 250.69L110.44 250.56L112.48 250.44L114.53 250.32L116.57 250.19L118.61 250.07L120.65 249.95L122.70 249.83L124.74 249.71L126.78 249.59L128.82 249.47L130.87 249.35L132.91 249.23L134.95 249.12L136.99 249.00L139.04 248.89L141.08 248.77L143.12 248.66L145.16 248.55L147.21 248.44L149.25 248.33L151.29 248.22L153.33 248.11L155.38 248.01L157.42 247.90L159.46 247.80L161.50 247.69L163.55 247.59L165.59 247.49L167.63 247.39L169.67 247.30L171.72 247.20L173.76 247.11L175.80 247.02L177.84 246.92L179.89 246.84L181.93 246.75L183.97 246.66L186.01 246.58L188.06 246.49L190.10 246.41L192.14 246.33L194.18 246.26L196.23 246.18L198.27 246.11L200.31 246.04L202.35 245.97L204.40 245.90L206.44 245.83L208.48 245.77L210.52 245.71L212.57 245.65L214.61 245.59L216.65 245.53L218.69 245.48L220.74 245.43L222.78 245.38L224.82 245.33L226.86 245.29L228.91 245.25L230.95 245.21L232.99 245.17L235.03 245.14L237.08 245.10L239.12 245.07L241.16 245.05L243.20 245.02L245.25 245.00L247.29 244.98L249.33 244.96L251.37 244.95L253.42 244.93L255.46 244.92L257.50 244.92" stroke="#f0f" stroke-width="2.0" fill="none"/>
<path d="M381.60 235.20L383.65 235.70L385.71 236.28L387.76 236.95L389.82 237.67L391.87 238.43L393.93 239.24L395.98 240.06L398.04 240.90L400.09 241.74L402.15 242.58L404.20 243.42L406.26 244.23L408.31 245.03L410.37 245.81L412.42 246.56L414.48 247.29L416.53 247.99L418.59 248.65L420.64 249.29L422.70 249.90L424.75 250.47L426.81 251.03L428.86 251.55L430.92 252.05L432.97 252.53L435.03 253.00L437.08 253.44L439.14 253.88L441.19 254.30L443.25 254.71L445.30 255.13L447.36 255.54L449.41 255.95L451.47 256.37L453.52 256.79L455.58 257.22L457.63 257.67L459.69 258.12L461.74 258.59L463.80 259.07L465.85 259.57L467.91 260.07L469.96 260.59L472.02 261.12L474.07 261.66L476.13 262.20L478.18 262.73L480.24 263.27L482.29 263.79L484.35 264.29L486.40 264.76" stroke="#f0f" stroke-width="2.0" fill="none"/>
<path d="M108.40 343.19L110.44 342.64L112.48 342.12L114.53 341.64L116.57 341.18L118.61 340.76L120.65 340.36L122.70 339.99L124.74 339.64L126.78 339.31L128.82 339.00L130.87 338.71L132.91 338.44L134.95 338.18L136.99 337.94L139.04 337.71L141.08 337.49L143.12 337.28L145.16 337.08L147.21 336.90L149.25 336.72L151.29 336.55L153.33 336.39L155.38 336.24L157.42 336.10L159.46 335.97L161.50 335.84L163.55 335.72L165.59 335.61L167.63 335.51L169.67 335.41L171.72 335.33L173.76 335.25L175.80 335.18L177.84 335.12L179.89 335.07L181.93 335.02L183.97 334.99L186.01 334.97L188.06 334.96L190.10 334.95L192.14 334.96L194.18 334.98L196.23 335.02L198.27 335.06L200.31 335.12L202.35 335.19L204.40 335.27L206.44 335.37L208.48 335.48L210.52 335.60L212.57 335.74L214.61 335.89L216.65 336.06L218.69 336.24L220.74 336.44L222.78 336.65L224.82 336.87L226.86 337.11L228.91 337.36L230.95 337.63L232.99 337.91L235.03 338.20L237.08 338.51L239.12 338.83L241.16 339.16L243.20 339.50L245.25 339.85L247.29 340.20L249.33 340.57L251.37 340.94L253.42 341.32L255.46 341.70L257.50 342.08" stroke="#00f" stroke-width="2.0" fill="none"/>
<path d="M381.50 334.59L383.55 333.04L385.59 331.62L387.64 330.34L389.69 329.17L391.74 328.11L393.78 327.15L395.83 326.27L397.88 325.48L399.92 324.76L401.97 324.11L404.02 323.53L406.06 323.01L408.11 322.55L410.16 322.14L412.21 321.79L414.25 321.49L416.30 321.24L418.35 321.05L420.39 320.90L422.44 320.81L424.49 320.78L426.54 320.80L428.58 320.88L430.63 321.01L432.68 321.21L434.72 321.47L436.77 321.80L438.82 322.19L440.86 322.66L442.91 323.20L444.96 323.81L447.01 324.50L449.05 325.26L451.10 326.11L453.15 327.04L455.19 328.05L457.24 329.15L459.29 330.32L461.34 331.58L463.38 332.92L465.43 334.34L467.48 335.84L469.52 337.42L471.57 339.06L473.62 340.78L475.66 342.56L477.71 344.39L479.76 346.28L481.81 348.21L483.85 350.17L485.90 352.16" stroke="#00f" stroke-width="2.0" fill="none"/>
<path d="M108.40 339.51L110.44 339.29L112.48 339.09L114.53 338.89L116.57 338.70L118.61 338.52L120.65 338.34L122.70 338.18L124.74 338.02L126.78 337.87L128.82 337.72L130.87 337.58L132.91 337.45L134.95 337.33L136.99 337.21L139.04 337.09L141.08 336.98L143.12 336.88L145.16 336.78L147.21 336.68L149.25 336.59L151.29 336.50L153.33 336.42L155.38 336.34L157.42 336.27L159.46 336.19L161.50 336.13L163.55 336.06L165.59 336.00L167.63 335.94L169.67 335.88L171.72 335.83L173.76 335.77L175.80 335.72L177.84 335.68L179.89 335.63L181.93 335.58L183.97 335.54L186.01 335.50L188.06 335.46L190.10 335.42L192.14 335.39L194.18 335.35L196.23 335.32L198.27 335.29L200.31 335.25L202.35 335.22L204.40 335.20L206.44 335.17L208.48 335.14L210.52 335.11L212.57 335.09L214.61 335.06L216.65 335.04L218.69 335.02L220.74 334.99L222.78 334.97L224.82 334.95L226.86 334.93L228.91 334.92L230.95 334.90L232.99 334.88L235.03 334.87L237.08 334.85L239.12 334.84L241.16 334.83L243.20 334.82L245.25 334.81L247.29 334.81L249.33 334.80L251.37 334.80L253.42 334.80L255.46 334.80L257.50 334.80" stroke="#f0f" stroke-width="2.0" fill="none"/>
<path d="M381.50 327.70L383.55 326.83L385.59 326.05L387.64 325.34L389.69 324.70L391.74 324.13L393.78 323.61L395.83 323.14L397.88 322.72L399.92 322.34L401.97 322.01L404.02 321.71L406.06 321.44L408.11 321.21L410.16 321.01L412.21 320.84L414.25 320.70L416.30 320.60L418.35 320.53L420.39 320.49L422.44 320.48L424.49 320.52L426.54 320.58L428.58 320.69L430.63 320.84L432.68 321.03L434.72 321.27L436.77 321.55L438.82 321.88L440.86 322.26L442.91 322.69L444.96 323.17L447.01 323.70L449.05 324.28L451.10 324.92L453.15 325.61L455.19 326.35L457.24 327.15L459.29 327.99L461.34 328.88L463.38 329.82L465.43 330.80L467.48 331.82L469.52 332.87L471.57 333.95L473.62 335.05L475.66 336.17L477.71 337.29L479.76 338.42L481.81 339.53L483.85 340.62L485.90 341.67" stroke="#f0f" stroke-width="2.0" fill="none"/>
</svg></body></html>
